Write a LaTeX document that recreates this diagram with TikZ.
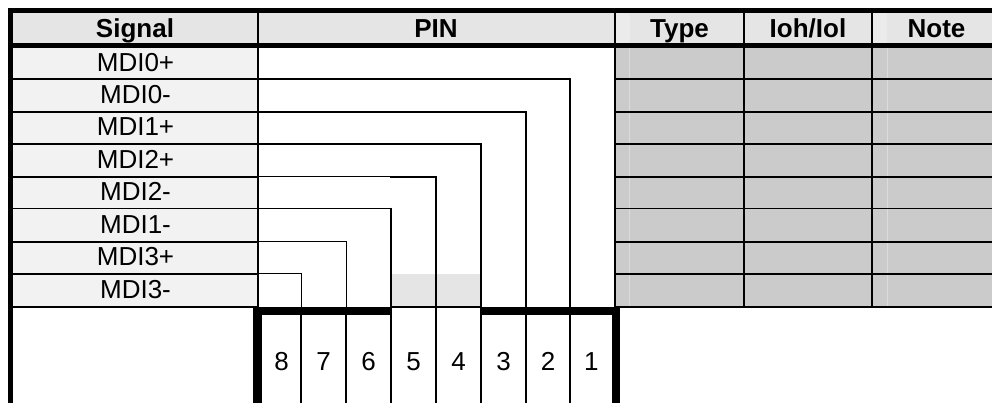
\documentclass[tikz,border=0pt]{standalone}
\usepackage{fontspec}
\setmainfont{Liberation Sans}
\definecolor{hdrgray}{HTML}{E5E5E5}
\definecolor{hdrlight}{HTML}{EBEBEB}
\definecolor{rowgray}{HTML}{F2F2F2}
\definecolor{cellgray}{HTML}{CBCBCB}
\definecolor{seamgray}{HTML}{DCDCDC}
\tikzset{
  cell/.style={rectangle,inner sep=0pt,outer sep=0pt,font=\fontsize{26}{28}\selectfont},
  hdr/.style={cell,font=\fontsize{26}{28}\selectfont\bfseries,text height=21pt,text depth=1.6pt},
  sigcell/.style={cell,fill=rowgray,text height=18pt,text depth=2pt,minimum width=245pt},
  pincell/.style={cell,text height=32pt,text depth=2pt,minimum height=96pt},
  grid/.style={line width=1.8pt,black},
  heavy/.style={line width=5pt,black},
  bar/.style={line width=8.4pt,black},
  wire/.style={line width=1.8pt,black},
  finewire/.style={line width=1pt,black}
}
\begin{document}
\begin{tikzpicture}[x=1pt,y=-1pt]
\useasboundingbox (0,0) rectangle (992,403);
\clip (0,0) rectangle (992,403);
\fill[white] (0,0) rectangle (992,403);
% header background
\fill[hdrgray] (8,8) rectangle (992,45);
\fill[hdrlight] (615,13) rectangle (629.5,43);
\fill[hdrlight] (872,13) rectangle (886.5,43);
% header text
\node[hdr] (hsig) at (135,28) {Signal};
\node[hdr] (hpin) at (436,28) {PIN};
\node[hdr] (htyp) at (679.5,28) {Type};
\node[hdr] (hioh) at (808,28) {Ioh/Iol};
\node[hdr] (hnot) at (936.5,28) {Note};
% gray cells
\fill[cellgray] (615,48) rectangle (992,307);
\draw[seamgray,line width=.8pt] (629.5,48) -- (629.5,307) (887,48) -- (887,307);
\fill[hdrgray] (391,273.7) rectangle (481,307);
% signal cells
\foreach \n/\yc/\h/\t in {1/63.5/31/MDI0+,2/95.5/33/MDI0-,3/128/32/MDI1+,4/160.5/33/MDI2+,5/192.75/31.5/MDI2-,6/225.1/33.2/MDI1-,7/257.7/32/MDI3+,8/290.35/33.3/MDI3-}
  \node[sigcell,minimum height=\h pt] (sig\n) at (135.5,\yc) {\t};
% pin cells
\foreach \n/\xc/\w in {8/281.5/39,7/323.5/45,6/368.5/45,5/413.5/45,4/458.5/45,3/503.5/45,2/548/44}
  \node[pincell,minimum width=\w pt] (pin\n) at (\xc,355) {\n};
\node[pincell,minimum width=45.5pt] (pin1) at (592.75,355) {\hspace*{-3pt}1};
% row rules
\foreach \n in {1,...,8}
  \draw[grid] (sig\n.south west) -- (sig\n.south east);
\foreach \y in {79,112,144,177,208.5,241.7,273.7}
  \draw[grid] (615,\y) -- (992,\y);
\draw[grid] (615,307) -- (992,307);
\draw[line width=1.5pt] (pin5.north west) -- (pin4.north east);
% column rules
\draw[grid] (sig1.north east) -- (sig8.south east);
\draw[grid] (258,13) -- (258,43);
\foreach \x in {615,744,872}
  \draw[grid] (\x,13) -- (\x,307);
% wires
\draw[wire] (sig1.south east) -| (pin1.north west);
\draw[wire] (sig2.south east) -| (pin2.north west);
\draw[wire] (sig3.south east) -| (pin3.north west);
\draw[finewire] (sig4.south east) -- (390,177);
\coordinate (w4) at (390,177);
\draw[wire] (w4) -| (pin4.north west);
\draw[line width=1.2pt] (sig5.south east) -- (391,208.5);
\coordinate (w5) at (391,207.6);
\draw[wire] (w5) -- (pin5.north west);
\draw[finewire] (sig6.south east) -| (pin6.north west);
\draw[finewire] (sig7.south east) -| (pin7.north west);
% pin separators
\foreach \n in {1,...,7}
  \draw[line width=1.5pt] (pin\n.north west) -- (pin\n.south west);
% heavy frame
\draw[heavy] (10.5,8) -- (10.5,403);
\draw[heavy] (8,10.5) -- (992,10.5);
\draw[heavy] (8,45.3) -- (992,45.3);
\draw[bar] (257.5,310.8) -- (257.5,403);
\draw[bar] (615.9,310.8) -- (615.9,403);
\draw[bar] (253.3,310.8) -- (pin5.north west |- 0,310.8);
\draw[bar] (pin3.north west |- 0,310.8) -- (620.1,310.8);
\end{tikzpicture}
\end{document}
